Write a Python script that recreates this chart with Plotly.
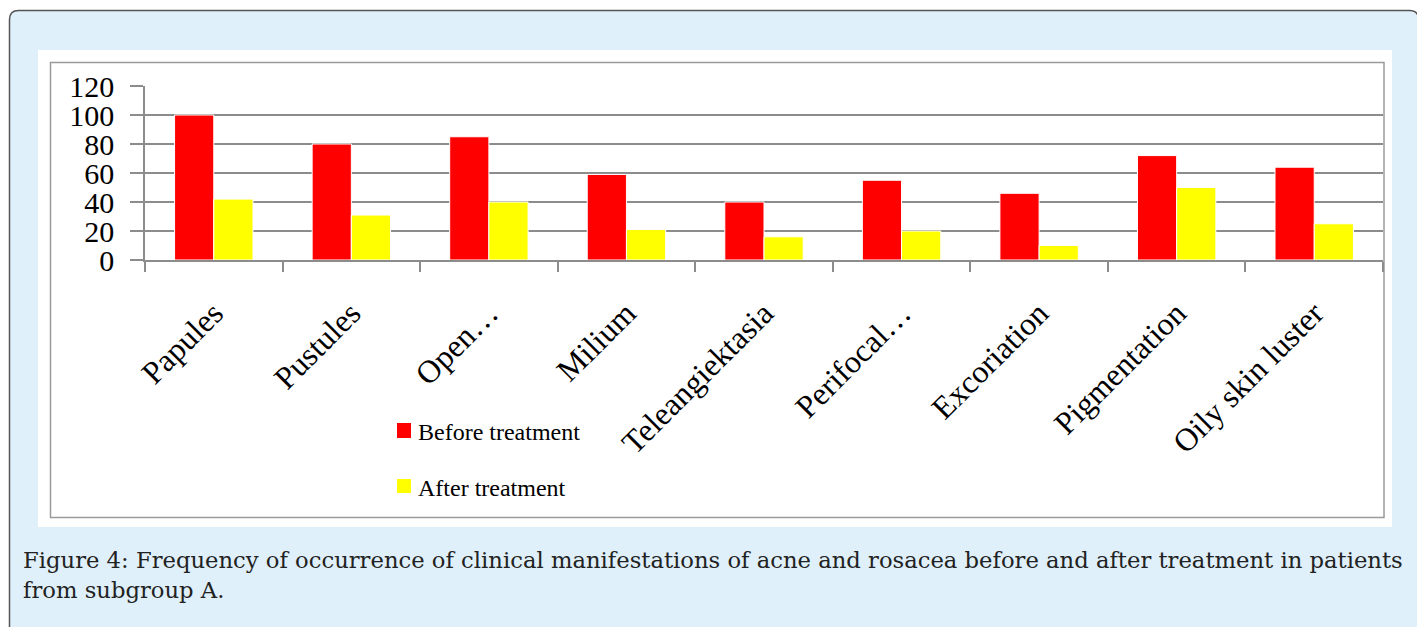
import plotly.graph_objects as go

categories = ["Papules", "Pustules", "Open…", "Milium", "Teleangiektasia",
              "Perifocal…", "Excoriation", "Pigmentation", "Oily skin luster"]
before_vals = [100, 80, 85, 59, 40, 55, 46, 72, 64]
after_vals = [42, 31, 40, 21, 16, 20, 10, 50, 25]
y_ticks = [0, 20, 40, 60, 80, 100, 120]
series_names = ["Before treatment", "After treatment"]
series_colors = ["#ff0000", "#ffff00"]
caption_lines = [
    "Figure 4: Frequency of occurrence of clinical manifestations of acne and rosacea before and after treatment in patients",
    "from subgroup A.",
]

# The page body has an 8px default margin; the figure is sized to fill the rest.
OFF = 8
SW, SH = 1425, 627               # screen size
W, H = SW - OFF, SH - OFF        # figure size
L, R, T, B = 145, 1383, 86, 260  # plot area in screen pixels

def px(x):
    return (x - L) / (R - L)

def py(y):
    return (B - y) / (B - T)

SERIF = "Liberation Serif, Times New Roman, serif"

fig = go.Figure()
for name, vals, col in zip(series_names, [before_vals, after_vals], series_colors):
    fig.add_trace(go.Bar(x=categories, y=vals, name=name,
                         marker=dict(color=col, line=dict(color="white", width=1)),
                         showlegend=False))

shapes = []
# outer rounded frame
x0, y0, x1, y1, r = 9.5, 10.5, 1418.5, 640, 9
path = (f"M {px(x0)} {py(y0 + r)} "
        f"Q {px(x0)} {py(y0)} {px(x0 + r)} {py(y0)} "
        f"L {px(x1 - r)} {py(y0)} "
        f"Q {px(x1)} {py(y0)} {px(x1)} {py(y0 + r)} "
        f"L {px(x1)} {py(y1)} L {px(x0)} {py(y1)} Z")
shapes.append(dict(type="path", xref="paper", yref="paper", path=path,
                   line=dict(color="#555555", width=1.5), fillcolor="#dff0fa", layer="below"))
# white image region
shapes.append(dict(type="rect", xref="paper", yref="paper",
                   x0=px(38), x1=px(1392), y0=py(50), y1=py(527),
                   line=dict(width=0), fillcolor="white", layer="below"))
# chart border
shapes.append(dict(type="rect", xref="paper", yref="paper",
                   x0=px(50.5), x1=px(1384), y0=py(62.5), y1=py(517.5),
                   line=dict(color="#9a9a9a", width=1.5), fillcolor="rgba(0,0,0,0)", layer="below"))

annotations = [
    dict(text=caption_lines[0], x=px(21), y=py(560), xref="paper", yref="paper",
         xanchor="left", yanchor="middle", showarrow=False,
         font=dict(family="DejaVu Serif, serif", size=22.7, color="#222222")),
    dict(text=caption_lines[1], x=px(21), y=py(590), xref="paper", yref="paper",
         xanchor="left", yanchor="middle", showarrow=False,
         font=dict(family="DejaVu Serif, serif", size=22.7, color="#222222")),
]

# manual legend
leg_rows = [(423, 438, 432), (479, 493, 488)]
for (ya, yb, yc), name, col in zip(leg_rows, series_names, series_colors):
    shapes.append(dict(type="rect", xref="paper", yref="paper",
                       x0=px(397), x1=px(411), y0=py(ya), y1=py(yb),
                       line=dict(width=0), fillcolor=col))
    annotations.append(dict(text=name, x=px(416), y=py(yc), xref="paper", yref="paper",
                            xanchor="left", yanchor="middle", showarrow=False,
                            font=dict(family=SERIF, size=24, color="black")))

fig.update_layout(
    width=W, height=H,
    margin=dict(l=L - OFF, r=SW - R, t=T - OFF, b=SH - B, pad=0, autoexpand=False),
    paper_bgcolor="#ffffff",
    plot_bgcolor="rgba(0,0,0,0)",
    barmode="group",
    bargap=0.43,
    bargroupgap=0.0,
    shapes=shapes,
    annotations=annotations,
    showlegend=False,
)
fig.update_xaxes(
    type="category", tickangle=-45, tickson="boundaries",
    ticks="outside", ticklen=10, tickcolor="#8c8c8c", tickwidth=1.5,
    showline=True, linecolor="#8c8c8c", linewidth=1.5,
    showgrid=False, automargin=False,
    tickfont=dict(family=SERIF, size=32, color="black"),
    ticklabelstandoff=20,
)
fig.update_yaxes(
    range=[0, 120], tickvals=y_ticks,
    ticks="outside", ticklen=13, tickcolor="#8c8c8c", tickwidth=1.5,
    showline=True, linecolor="#8c8c8c", linewidth=1.5,
    showgrid=True, gridcolor="#8c8c8c", gridwidth=1.5,
    zeroline=False, automargin=False,
    tickfont=dict(family=SERIF, size=30, color="black"),
    ticklabelstandoff=10,
)
fig.write_html("out.html")
